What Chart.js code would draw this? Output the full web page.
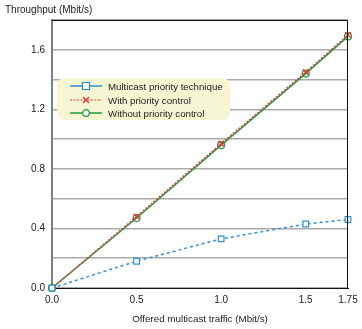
<!DOCTYPE html>
<html>
<head>
<meta charset="utf-8">
<script src="https://cdn.jsdelivr.net/npm/chart.js@4/dist/chart.umd.min.js"></script>
<style>
  html, body { margin: 0; padding: 0; background: #fff; }
  #wrap { position: relative; width: 362px; height: 329px; font-family: "Liberation Sans", Arial, sans-serif; }
  #ytitle { position: absolute; left: 5px; top: 4px; font-size: 10px; color: #222; }
  #legend { position: absolute; left: 57px; top: 78px; width: 173px; height: 42px; background: #f6f6d2; border-radius: 7px; font-size: 9.7px; color: #222; }
  #legend .row { position: absolute; left: 13px; height: 13px; line-height: 13px; white-space: nowrap; }
  #legend svg { vertical-align: middle; margin-right: 6px; position: relative; top: -1px; }
</style>
</head>
<body>
<div id="wrap">
  <canvas id="chart" width="362" height="329"></canvas>
  <div id="ytitle">Throughput (Mbit/s)</div>
  <div id="legend"></div>
</div>
<script>
// offered traffic (Mbit/s)
var traffic = [0, 0.5, 1.0, 1.5, 1.75];
var multicastPriority = [0, 0.18, 0.33, 0.43, 0.46];
var withPriority = [0, 0.48, 0.97, 1.45, 1.70];
var withoutPriority = [0, 0.47, 0.96, 1.44, 1.69];
var xTicks = [0, 0.5, 1.0, 1.5, 1.75];

var names = ['Multicast priority technique', 'With priority control', 'Without priority control'];
var colors = ['#2f8fd6', '#e8363a', '#23983c'];

function pts(ys) {
  return traffic.map(function (x, i) { return { x: x, y: ys[i] }; });
}

// legend (built by hand, the chart legend can't do line + marker like this)
var legendIcons = [
  '<svg width="32" height="10"><line x1="0" y1="5" x2="32" y2="5" stroke="' + colors[0] + '" stroke-width="1.5"/><rect x="12.5" y="1.5" width="7" height="7" fill="#fff" stroke="' + colors[0] + '" stroke-width="1.2"/></svg>',
  '<svg width="32" height="10"><line x1="0" y1="5" x2="32" y2="5" stroke="' + colors[1] + '" stroke-width="1.2" stroke-dasharray="2,1.5"/><path d="M13 2 L19 8 M19 2 L13 8" stroke="' + colors[1] + '" stroke-width="1.4"/></svg>',
  '<svg width="32" height="10"><line x1="0" y1="5" x2="32" y2="5" stroke="' + colors[2] + '" stroke-width="1.5"/><circle cx="16" cy="5" r="3.3" fill="#fff" stroke="' + colors[2] + '" stroke-width="1.2"/></svg>'
];
var lg = document.getElementById('legend');
names.forEach(function (n, i) {
  var d = document.createElement('div');
  d.className = 'row';
  d.style.top = (2 + i * 13.5) + 'px';
  d.innerHTML = legendIcons[i] + n;
  lg.appendChild(d);
});

var frame = {
  id: 'frame',
  afterDraw: function (chart) {
    var a = chart.chartArea, c = chart.ctx;
    c.save();
    c.strokeStyle = '#111';
    c.lineWidth = 1;
    c.beginPath();
    c.moveTo(a.left, a.top + 0.5);
    c.lineTo(a.right - 0.5, a.top + 0.5);
    c.lineTo(a.right - 0.5, a.bottom);
    c.stroke();
    c.restore();
  }
};

new Chart(document.getElementById('chart'), {
  type: 'scatter',
  data: {
    datasets: [{
      label: names[0],
      data: pts(multicastPriority),
      showLine: true,
      clip: false,
      borderColor: colors[0],
      borderWidth: 1.5,
      borderDash: [3, 3],
      pointStyle: 'rect',
      pointRadius: 4,
      pointBackgroundColor: '#fff',
      pointBorderColor: colors[0],
      pointBorderWidth: 1.2
    }, {
      label: names[1],
      data: pts(withPriority),
      showLine: true,
      clip: false,
      borderColor: colors[1],
      borderWidth: 1.3,
      borderDash: [2, 1.5],
      pointStyle: 'crossRot',
      pointRadius: 4,
      pointBorderColor: colors[1],
      pointBorderWidth: 1.4
    }, {
      label: names[2],
      data: pts(withoutPriority),
      showLine: true,
      clip: false,
      borderColor: colors[2],
      borderWidth: 1.5,
      pointStyle: 'circle',
      pointRadius: 3.5,
      pointBackgroundColor: 'rgba(255,255,255,0)',
      pointBorderColor: colors[2],
      pointBorderWidth: 1.2
    }]
  },
  options: {
    responsive: false,
    animation: false,
    layout: { padding: { top: 20, right: 14, left: 0, bottom: 0 } },
    plugins: { legend: { display: false }, tooltip: { enabled: false } },
    scales: {
      x: {
        type: 'linear',
        min: 0,
        max: 1.75,
        afterBuildTicks: function (s) { s.ticks = xTicks.map(function (v) { return { value: v }; }); },
        afterFit: function (s) { s.height = 41; s.paddingLeft = 0; s.paddingRight = 0; },
        grid: { display: false, drawTicks: false },
        border: { color: '#111', width: 1 },
        ticks: {
          color: '#222',
          font: { family: 'Liberation Sans', size: 10 },
          padding: 6,
          maxRotation: 0,
          autoSkip: false,
          callback: function (v) { return v === 1.75 ? '1.75' : v.toFixed(1); }
        },
        title: {
          display: true,
          text: 'Offered multicast traffic (Mbit/s)',
          color: '#222',
          font: { family: 'Liberation Sans', size: 9.8 },
          padding: { top: 5 }
        }
      },
      y: {
        min: 0,
        max: 1.8,
        afterFit: function (s) { s.width = 52; s.paddingTop = 0; s.paddingBottom = 0; },
        grid: { color: '#aaaaaa', lineWidth: 1.5, drawTicks: false },
        border: { color: '#808080', width: 2 },
        ticks: {
          stepSize: 0.2,
          color: '#222',
          padding: 7,
          font: { family: 'Liberation Sans', size: 10 },
          callback: function (v) {
            var k = Math.round(v * 10);
            return (k % 4 === 0 && k < 18) ? (k / 10).toFixed(1) : '';
          }
        }
      }
    }
  },
  plugins: [frame]
});
</script>
</body>
</html>
